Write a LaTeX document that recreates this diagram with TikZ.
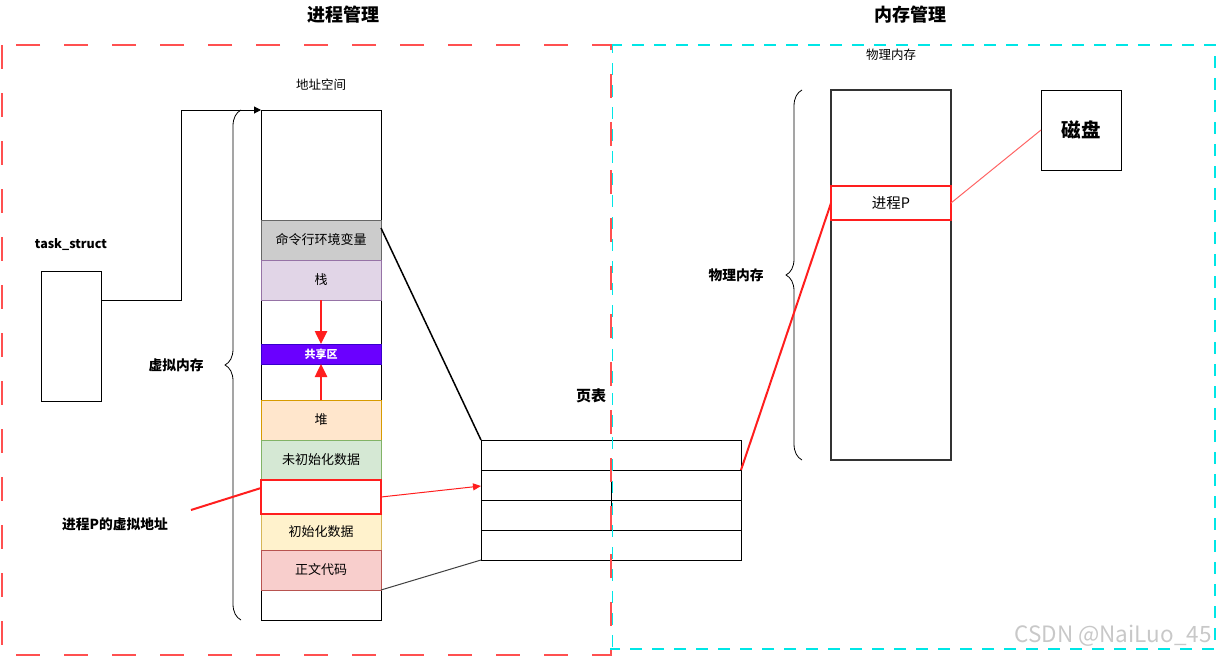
\documentclass[tikz,border=0pt]{standalone}
\usepackage{fontspec}
\newfontfamily\cjk{Noto Sans CJK SC}
\usetikzlibrary{arrows.meta,decorations.pathreplacing}
\definecolor{dashred}{RGB}{255,80,80}
\definecolor{dashcyan}{RGB}{0,230,230}
\definecolor{envfill}{HTML}{CCCCCC}
\definecolor{envdraw}{HTML}{666666}
\definecolor{stackfill}{HTML}{E1D5E7}
\definecolor{stackdraw}{HTML}{9673A6}
\definecolor{shfill}{HTML}{6A00FF}
\definecolor{shdraw}{HTML}{3700CC}
\definecolor{heapfill}{HTML}{FFE6CC}
\definecolor{heapdraw}{HTML}{D79B00}
\definecolor{bssfill}{HTML}{D5E8D4}
\definecolor{bssdraw}{HTML}{82B366}
\definecolor{datafill}{HTML}{FFF2CC}
\definecolor{datadraw}{HTML}{D6B656}
\definecolor{textfill}{HTML}{F8CECC}
\definecolor{textdraw}{HTML}{B85450}
\definecolor{pred}{RGB}{255,30,30}
\definecolor{lightred}{RGB}{255,100,100}
\definecolor{wm}{RGB}{200,200,200}
\tikzset{
  every node/.style={font=\cjk\fontsize{13}{15}\selectfont, inner sep=0pt, outer sep=0pt},
  seg/.style={draw, rectangle, minimum width=120pt, line width=1pt},
  lbl/.style={font=\cjk\bfseries\fontsize{13.75}{15}\selectfont},
  title/.style={font=\cjk\bfseries\fontsize{18}{20}\selectfont},
  brc/.style={decorate, decoration={brace, amplitude=16pt}, line width=0.8pt}
}
\begin{document}
\begin{tikzpicture}[x=1pt,y=-1pt]
\useasboundingbox (0,0) rectangle (1217,656);
% titles
\node[title] (t1) at (343,15) {进程管理};
\node[title] (t2) at (910,15) {内存管理};
% address space column
\node[seg, minimum height=510pt, fill=white] (as) at (321,365) {};
\node[font=\cjk\fontsize{12.5}{14}\selectfont] (aslbl) at (321,85) {地址空间};
\node[seg, minimum height=40pt, fill=envfill, draw=envdraw] (env) at (321,240) {命令行环境变量};
\node[seg, minimum height=40pt, fill=stackfill, draw=stackdraw] (stack) at (321,280) {栈};
\node[seg, minimum height=20pt, fill=shfill, draw=shdraw, text=white, font=\cjk\bfseries\fontsize{11}{13}\selectfont] (share) at (321,354) {共享区};
\node[seg, minimum height=40pt, fill=heapfill, draw=heapdraw] (heap) at (321,420) {堆};
\node[seg, minimum height=40pt, fill=bssfill, draw=bssdraw] (bss) at (321,460) {未初始化数据};
\node[seg, minimum height=36pt, fill=datafill, draw=datadraw] (data) at (321,532) {初始化数据};
\node[seg, minimum height=40pt, fill=textfill, draw=textdraw] (code) at (321,570) {正文代码};
\node[seg, minimum height=34pt, fill=white, draw=pred, line width=2pt] (vaddr) at (321,497) {};
% stack/heap arrows
\draw[pred, line width=2.5pt, -{Triangle[length=13pt,width=12pt]}] (stack.south) -- (share.north);
\draw[pred, line width=2.5pt, -{Triangle[length=13pt,width=12pt]}] (heap.north) -- (share.south);
% task_struct
\node[draw, line width=1pt, minimum width=60pt, minimum height=130pt] (ts) at (71,336) {};
\node[font=\fontsize{12.5}{14}\selectfont\cjk\bfseries] (tslbl) at (71,245) {task\_struct};
\coordinate (c1) at (181,300);
\coordinate (c2) at (181,110);
\draw[line width=1pt, -{Triangle[length=7pt,width=7pt]}] (ts.east |- c1) -- (c1) -- (c2) -- (as.north west);
% braces
\draw[brc] (241,620) -- (241,110);
\node[lbl] (vm) at (176,365) {虚拟内存};
\draw[brc] (802,460) -- (802,90);
\node[lbl] (pmside) at (736,275) {物理内存};
% virtual address label
\node[lbl] (vlbl) at (115,524) {进程P的虚拟地址};
\coordinate (vstart) at (191,510);
\draw[pred, line width=2pt] (vstart) -- (vaddr.west |- 0,488);
% page table
\node[draw, line width=1pt, minimum width=260pt, minimum height=30pt] (pt1) at (611,455) {};
\node[draw, line width=1pt, minimum width=260pt, minimum height=30pt] (pt2) at (611,485) {};
\node[draw, line width=1pt, minimum width=260pt, minimum height=30pt] (pt3) at (611,515) {};
\node[draw, line width=1pt, minimum width=260pt, minimum height=30pt] (pt4) at (611,545) {};
\draw[line width=1pt] (pt2.north) -- (611,521);
\node[lbl, font=\cjk\bfseries\fontsize{15}{17}\selectfont] (ptlbl) at (591,396) {页表};
% connectors to page table
\draw[line width=1.5pt] (env.east |- 0,228) -- (pt1.north west);
\draw[line width=1pt, black!75] (code.south east) -- (pt4.south west);
\draw[pred, line width=1pt, -{Triangle[length=8pt,width=7pt]}] (vaddr.east) -- (pt2.west |- 0,486);
% physical memory
\node[draw=black!80, line width=2pt, minimum width=120pt, minimum height=370pt] (pm) at (891,275) {};
\node[font=\cjk\fontsize{12.5}{14}\selectfont] (pmlbl) at (891,55) {物理内存};
\node[draw=pred, line width=2pt, fill=white, minimum width=120pt, minimum height=34pt, font=\cjk\fontsize{14.5}{16}\selectfont] (pp) at (891,203) {进程P};
\node[draw, line width=1pt, minimum width=80pt, minimum height=80pt, font=\cjk\bfseries\fontsize{19.5}{21}\selectfont] (disk) at (1081,130) {磁盘};
\draw[pred, line width=2pt] (pt2.north east) -- (pp.west);
\draw[lightred, line width=1pt] (pp.east) -- (disk.west);
% dashed regions
\draw[dashcyan, line width=1.3pt, dash pattern=on 12pt off 10pt] (610,45) -- (1215,45) -- (1215,649) -- (610,649);
\draw[dashred, line width=2pt, dash pattern=on 24pt off 24pt] (2,45) rectangle (611,655);
\draw[dashcyan, line width=0.8pt, dash pattern=on 12pt off 10pt, dash phase=4pt] (612,45) -- (612,649);
% watermark
\node[text=wm, font=\fontsize{22.5}{24}\selectfont\cjk] (wmk) at (1113,636) {CSDN @NaiLuo\_45};
\end{tikzpicture}
\end{document}
